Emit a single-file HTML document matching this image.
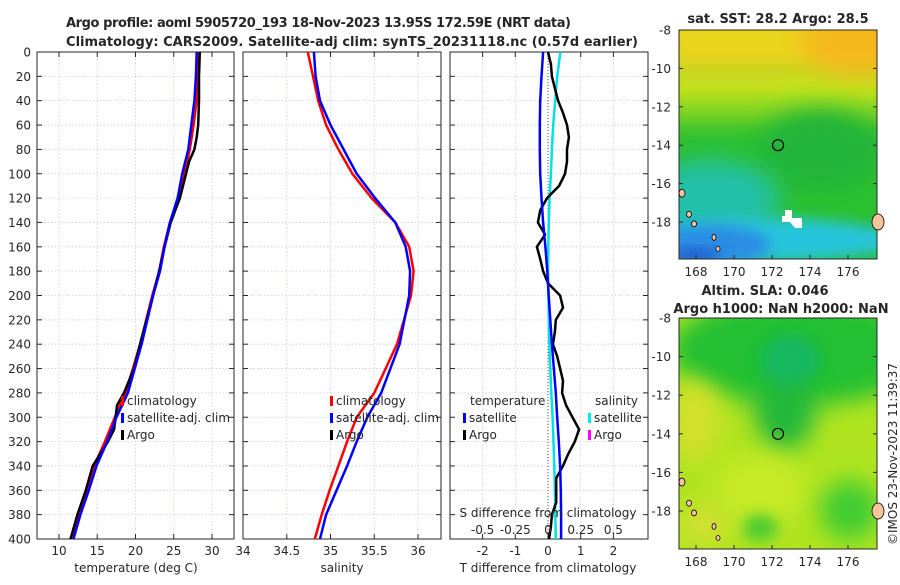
<!DOCTYPE html>
<html><head><meta charset="utf-8"><style>
body{margin:0;background:#fff;font-family:"Liberation Sans","DejaVu Sans",sans-serif}
svg text{font-family:"DejaVu Sans","Liberation Sans",sans-serif;fill:#262626}
</style></head><body>
<svg id="s" width="900" height="580" viewBox="0 0 900 580" xmlns="http://www.w3.org/2000/svg">
<defs>
<filter id="bl" x="-50%" y="-50%" width="200%" height="200%"><feGaussianBlur stdDeviation="12"/></filter>
<filter id="bl2" x="-50%" y="-50%" width="200%" height="200%"><feGaussianBlur stdDeviation="7"/></filter>
<clipPath id="c1"><rect x="679" y="30" width="198" height="229"/></clipPath>
<clipPath id="c2"><rect x="679" y="318" width="198" height="231"/></clipPath>
</defs>
<text x="66" y="27" font-size="13" font-weight="bold" textLength="505">Argo profile: aoml 5905720_193 18-Nov-2023 13.95S 172.59E (NRT data)</text>
<text x="66" y="46" font-size="13" font-weight="bold" textLength="572">Climatology: CARS2009. Satellite-adj clim: synTS_20231118.nc (0.57d earlier)</text>
<g id="g"></g>
<!-- top map -->
<g clip-path="url(#c1)">
<rect x="679" y="30" width="198" height="229" fill="#2cc030"/>
<rect x="660" y="95" width="240" height="30" fill="#70d020" filter="url(#bl)"/>
<rect x="660" y="65" width="240" height="40" fill="#c4e41c" filter="url(#bl)"/>
<rect x="660" y="10" width="240" height="65" fill="#ecd41a" filter="url(#bl)"/>
<ellipse cx="860" cy="40" rx="60" ry="35" fill="#f4b81c" filter="url(#bl)"/>
<ellipse cx="820" cy="150" rx="60" ry="40" fill="#22b43a" filter="url(#bl)"/>
<ellipse cx="710" cy="200" rx="70" ry="40" fill="#22c0a8" filter="url(#bl)"/>
<ellipse cx="760" cy="240" rx="140" ry="22" fill="#28c4dc" filter="url(#bl2)"/>
<ellipse cx="710" cy="245" rx="60" ry="20" fill="#2a8ce4" filter="url(#bl2)"/>
<ellipse cx="695" cy="256" rx="25" ry="6" fill="#1f50c8" filter="url(#bl2)"/>
<polygon points="785,210 792,210 792,218 802,218 802,228 795,228 790,222 782,222 782,216 785,216" fill="#fff"/>
</g>
<rect x="679" y="30" width="198" height="229" fill="none" stroke="#262626"/>
<!-- bottom map -->
<g clip-path="url(#c2)">
<rect x="679" y="318" width="198" height="231" fill="#b0e420"/>
<ellipse cx="800" cy="350" rx="130" ry="55" fill="#20c030" filter="url(#bl)"/>
<ellipse cx="785" cy="410" rx="30" ry="40" fill="#22b83a" filter="url(#bl)"/>
<ellipse cx="790" cy="360" rx="30" ry="25" fill="#18b860" filter="url(#bl2)"/>
<ellipse cx="695" cy="420" rx="25" ry="40" fill="#d4e02a" filter="url(#bl)"/>
<ellipse cx="760" cy="490" rx="45" ry="35" fill="#c8ea28" filter="url(#bl)"/>
<ellipse cx="850" cy="510" rx="30" ry="30" fill="#40cc30" filter="url(#bl)"/>
<ellipse cx="760" cy="528" rx="18" ry="14" fill="#50cc30" filter="url(#bl2)"/>
<ellipse cx="705" cy="525" rx="25" ry="20" fill="#d4e030" filter="url(#bl)"/>
</g>
<rect x="679" y="318" width="198" height="231" fill="none" stroke="#262626"/>
<text x="778" y="23" font-size="13" font-weight="bold" text-anchor="middle">sat. SST: 28.2 Argo: 28.5</text>
<text x="765" y="295" font-size="13" font-weight="bold" text-anchor="middle">Altim. SLA: 0.046</text>
<text x="781" y="313" font-size="13" font-weight="bold" text-anchor="middle">Argo h1000: NaN h2000: NaN</text>
<text transform="translate(897,545) rotate(-90)" font-size="12">©IMOS 23-Nov-2023 11:39:37</text>
</svg>
<script>
const depths=[0,10,20,30,40,50,60,70,80,90,100,110,120,130,140,150,160,170,180,190,200,210,220,230,240,250,260,270,280,290,300,310,320,330,340,350,360,370,380,390,400];
const cDepth=[0,20,40,60,80,100,120,140,160,180,200,240,280,300,320,340,360,380,400];
const tClim=[28.2,28.1,28.0,27.6,27.1,26.4,25.6,24.5,23.7,23.1,22.2,20.6,18.7,17.3,16.0,14.6,13.8,12.6,11.6];
const tSat=[28.0,27.9,27.7,27.3,26.9,26.1,25.5,24.5,23.8,23.2,22.3,20.8,19.0,17.5,16.3,14.9,13.9,12.8,11.9];
const tArgoDepth=[0,20,40,60,70,80,90,100,120,140,160,180,200,240,260,280,290,300,310,320,340,360,380,400];
const tArgo=[28.4,28.3,28.3,28.2,28.0,27.7,27.0,26.6,25.8,24.6,23.8,23.1,22.3,20.6,19.8,18.5,17.6,17.4,17.2,16.4,14.4,13.5,12.4,11.5];
const sClim=[34.74,34.80,34.86,34.95,35.09,35.25,35.47,35.74,35.90,35.95,35.92,35.76,35.50,35.30,35.19,35.09,34.99,34.90,34.82];
const sSat=[34.81,34.83,34.88,35.00,35.15,35.30,35.51,35.74,35.86,35.91,35.90,35.79,35.58,35.42,35.30,35.19,35.07,34.95,34.88];
const dSatT=[-0.15,-0.2,-0.24,-0.25,-0.25,-0.24,-0.2,-0.15,-0.08,-0.02,0.02,0.12,0.24,0.28,0.33,0.37,0.39,0.40,0.40];
const dSatS=[0.095,0.07,0.055,0.04,0.03,0.022,0.012,0.006,0.002,0,0.003,0.01,0.025,0.035,0.042,0.048,0.052,0.056,0.06];
const dArgoT=[0,0.09,0.12,0.21,0.31,0.46,0.58,0.64,0.58,0.58,0.52,0.34,-0.03,-0.24,-0.31,-0.09,-0.34,-0.24,-0.15,0,0.37,0.46,0.24,0.21,0.15,0.28,0.37,0.46,0.43,0.55,0.75,0.95,0.82,0.62,0.46,0.25,0.25,0.25,0.12,0.09,0.03];
const yTicks=[0,20,40,60,80,100,120,140,160,180,200,220,240,260,280,300,320,340,360,380,400];
const tTicks=[10,15,20,25,30];
const sTicks=[34,34.5,35,35.5,36];
const dTicks=[-2,-1,0,1,2];
const sdTicks=[-0.5,-0.25,0,0.25,0.5];
const sdLabels=["-0.5","-0.25","0","0.25","0.5"];
const latTicks=[-8,-10,-12,-14,-16,-18];
const lonTicks=[168,170,172,174,176];

const NS='http://www.w3.org/2000/svg';
const G=document.getElementById('g');
function el(t,a,p){const e=document.createElementNS(NS,t);for(const k in a)e.setAttribute(k,a[k]);(p||G).appendChild(e);return e;}
const yD=d=>52+d*1.2175;
const xT=v=>59+(v-10)*7.65;
const xS=v=>243+(v-34)*87.5;
const xD=v=>548+v*32.7;
const xSD=v=>548+v*130.8;
const panels=[{x:37,w:197,n:'temperature-panel'},{x:243,w:198,n:'salinity-panel'},{x:450,w:198,n:'difference-panel'}];
const P=[xT,xS,xD], PT=[tTicks,sTicks,dTicks];
panels.forEach((p,i)=>{
  const g=el('g',{});
  
  
  PT[i].forEach(v=>{const x=P[i](v);const l=el('line',{x1:x,x2:x,y1:52,y2:539,stroke:'#e4c8bc','stroke-dasharray':'1.5,2','stroke-width':0.8},g);
    el('line',{x1:x,x2:x,y1:539,y2:534,stroke:'#262626'},g);el('line',{x1:x,x2:x,y1:52,y2:57,stroke:'#262626'},g);
    const t=el('text',{x:x,y:555,'font-size':12,'text-anchor':'middle'},g);t.textContent=String(v);});
  yTicks.forEach(d=>{const y=yD(d);const l=el('line',{x1:p.x,x2:p.x+p.w,y1:y,y2:y,stroke:'#c8cce8','stroke-dasharray':'1.5,2','stroke-width':0.8},g);
    el('line',{x1:p.x,x2:p.x+5,y1:y,y2:y,stroke:'#262626'},g);el('line',{x1:p.x+p.w-5,x2:p.x+p.w,y1:y,y2:y,stroke:'#262626'},g);
    if(i===0){const t=el('text',{x:31,y:y+4.5,'font-size':12,'text-anchor':'end'},g);t.textContent=String(d);}});
  const r=el('rect',{x:p.x,y:52,width:p.w,height:487,fill:'none',stroke:'#262626'},g);
});
function line(xs,ds,fx,col,name,w){const pts=xs.map((v,i)=>fx(v).toFixed(1)+','+yD(ds[i]).toFixed(1)).join(' ');const e=el('polyline',{points:pts,fill:'none',stroke:col,'stroke-width':w||2.5,'stroke-linejoin':'round'});return e;}
const z=el('line',{x1:xD(0),x2:xD(0),y1:52,y2:539,stroke:'#555','stroke-dasharray':'1,2','stroke-width':1});


line(tClim,cDepth,xT,'#ff0000','temperature-climatology-line');
line(tArgo,tArgoDepth,xT,'#000000','temperature-argo-line');
line(tSat,cDepth,xT,'#0000ff','temperature-satellite-line');
line(sClim,cDepth,xS,'#ff0000','salinity-climatology-line');
line(sSat,cDepth,xS,'#0000ff','salinity-satellite-line');
line(dSatS,cDepth,xSD,'#00e0e8','salinity-diff-satellite-line');
line(dArgoT,depths,xD,'#000000','temperature-diff-argo-line');
line(dSatT,cDepth,xD,'#0000ff','temperature-diff-satellite-line');
sdTicks.forEach((v,i)=>{const t=el('text',{x:xSD(v),y:534,'font-size':12,'text-anchor':'middle'});t.textContent=sdLabels[i];});
function txt(x,y,s,name,opt){const t=el('text',Object.assign({x:x,y:y,'font-size':12},opt||{}));t.textContent=s;return t;}
txt(548,517,'S difference from climatology','s-diff-axis-title',{'text-anchor':'middle'});
txt(136,572,'temperature (deg C)','temperature-axis-title',{'text-anchor':'middle'});
txt(342,572,'salinity','salinity-axis-title',{'text-anchor':'middle'});
txt(548,572,'T difference from climatology','t-diff-axis-title',{'text-anchor':'middle'});
function leg(x,y,col,s,name){const b=el('rect',{x:x,y:y-9,width:3,height:10,fill:col});txt(x+6,y,s,name);}
leg(121,405,'#ff0000','climatology','legend-climatology');
leg(121,422,'#0000ff','satellite-adj. clim','legend-satellite');
leg(121,439,'#000000','Argo','legend-argo');
leg(330,405,'#ff0000','climatology','legend-s-climatology');
leg(330,422,'#0000ff','satellite-adj. clim','legend-s-satellite');
leg(330,439,'#000000','Argo','legend-s-argo');
txt(470,405,'temperature','legend-temperature-header');
leg(463,422,'#0000ff','satellite','legend-t-satellite');
leg(463,439,'#000000','Argo','legend-t-argo');
txt(595,405,'salinity','legend-salinity-header');
leg(588,422,'#00e8e8','satellite','legend-s-diff-satellite');
leg(588,439,'#ff00ff','Argo','legend-s-diff-argo');
const S=document.getElementById('s');
[[30,19.2,259],[318,19.3,549]].forEach((m,k)=>{
  latTicks.forEach(v=>{const y=m[0]+(-8-v)*m[1];const t=el('text',{x:671,y:y+4.5,'font-size':12,'text-anchor':'end'},S);t.textContent=String(v);
    el('line',{x1:679,x2:683,y1:y,y2:y,stroke:'#262626'},S);el('line',{x1:873,x2:877,y1:y,y2:y,stroke:'#262626'},S);});
  lonTicks.forEach(v=>{const x=696+(v-168)*19;const t=el('text',{x:x,y:m[2]+17,'font-size':12,'text-anchor':'middle'},S);t.textContent=String(v);
    el('line',{x1:x,x2:x,y1:m[2],y2:m[2]-4,stroke:'#262626'},S);});
  const cy=m[0]+6*m[1];
  const c=el('circle',{cx:778,cy:cy,r:5.5,fill:'none',stroke:'#000','stroke-width':1.2},S);
  [[682,m[0]+8.5*m[1],3,4],[689,m[0]+9.6*m[1],2.5,3],[694,m[0]+10.1*m[1],2.5,3],[714,m[0]+10.8*m[1],2,3],[718,m[0]+11.4*m[1],2,2.5],[878,m[0]+10*m[1],6,8]].forEach(q=>{const e=el('ellipse',{cx:q[0],cy:q[1],rx:q[2],ry:q[3],fill:'#f6c49a',stroke:'#000','stroke-width':0.8},S);});
});
</script>
</body></html>
